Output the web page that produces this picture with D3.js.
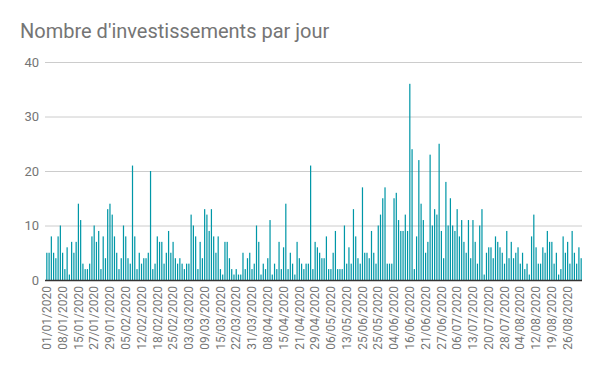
<!DOCTYPE html>
<html>
<head>
<meta charset="utf-8">
<script src="https://d3js.org/d3.v7.min.js"></script>
<style>
body { margin: 0; background: #fff; }
text { font-family: Roboto, "Noto Sans", sans-serif; }
</style>
</head>
<body>
<svg width="600" height="371"></svg>
<script>
// daily counts (238 days shown)
var counts = [
  5,5,8,5,4,8,10,5,2,6, 1,7,5,7,14,11,3,2,2,3, 8,10,7,9,2,8,4,13,14,12,
  8,5,2,4,10,8,4,3,21,8, 2,5,3,4,4,5,20,2,3,8, 7,7,3,5,9,5,7,4,3,
  4,3,2,3, 3,12,10,8, 2,7,4,13, 12,9,13,8, 5,8,2,1, 7,7,4,2, 1,2,1,1,
  5,2,4,5, 2,3,10,7, 1,3,2,4, 11,1,3,2, 7,2,6,14, 2,5,3,1, 7,4,3,2,
  3,3,21,2, 7,6,5,
  4,4,8,2,2, 5,9,2,2, 2,10,3,6, 3,13,8,4, 3,17,5,5, 4,9,5,3, 10,12,15,17,
  3,3,3,15, 16,11,9,9, 12,9,36,24, 2,8,22,14, 11,5,7,23, 10,13,12,25,
  9,4,18,10, 15,10,9,13, 8,
  11,7,5, 11,4,11,7, 3,10,13,1, 5,6,6,4,8, 7,6,5,3, 9,4,7,4, 5,6,3,5,
  2,3,1,8, 12,6,3,3, 6,5,9,7, 7,3,5,1, 2,8,5,7, 3,9,5,3, 6,4
];

// one label every 7 bars
var tickLabels = [
  "01/01/2020","08/01/2020","15/01/2020","27/01/2020","29/01/2020","05/02/2020",
  "12/02/2020","18/02/2020","25/02/2020","03/03/2020","09/03/2020","15/03/2020",
  "22/03/2020","31/03/2020","08/04/2020","15/04/2020","21/04/2020","29/04/2020",
  "06/05/2020","13/05/2020","25/06/2020","25/05/2020","04/06/2020","16/06/2020",
  "21/06/2020","27/06/2020","06/07/2020","13/07/2020","20/07/2020","28/07/2020",
  "04/08/2020","12/08/2020","19/08/2020","26/08/2020"
];
var labelEvery = 7;
var yTicks = [0, 10, 20, 30, 40];

var svg = d3.select("svg");
var plotLeft = 45, plotRight = 582, plotTop = 62, plotBottom = 280;

var x = d3.scaleBand()
    .domain(d3.range(counts.length))
    .range([plotLeft + 1, plotRight])
    .paddingInner(0.46)
    .paddingOuter(0.1);

var y = d3.scaleLinear()
    .domain([0, 40])
    .range([plotBottom, plotTop]);

svg.append("text")
    .attr("x", 20)
    .attr("y", 38)
    .attr("fill", "#757575")
    .attr("font-size", 20)
    .text("Nombre d'investissements par jour");

// grid + y labels
var yAxis = svg.append("g")
    .attr("transform", "translate(" + plotLeft + ",0)")
    .call(d3.axisLeft(y).tickValues(yTicks).tickSize(-(plotRight - plotLeft)).tickPadding(6));
yAxis.select(".domain").remove();
yAxis.selectAll(".tick line").attr("stroke", "#cccccc");
yAxis.selectAll(".tick text")
    .attr("fill", "#757575")
    .attr("font-size", 13)
    .attr("font-family", "Roboto, sans-serif");

svg.append("g")
    .selectAll("rect")
    .data(counts)
    .enter().append("rect")
      .attr("x", function(d, i) { return x(i); })
      .attr("width", x.bandwidth())
      .attr("y", function(d) { return y(d); })
      .attr("height", function(d) { return y(0) - y(d); })
      .attr("fill", "#0097a7");

// baseline
svg.append("line")
    .attr("x1", plotLeft).attr("x2", plotRight)
    .attr("y1", plotBottom + 0.5).attr("y2", plotBottom + 0.5)
    .attr("stroke", "#333")
    .attr("stroke-width", 1.5);

// x labels, rotated
var xAxis = svg.append("g")
    .attr("transform", "translate(0," + plotBottom + ")")
    .call(d3.axisBottom(x)
      .tickValues(tickLabels.map(function(d, i) { return i * labelEvery; }))
      .tickFormat(function(d) { return tickLabels[d / labelEvery]; })
      .tickSize(0));
xAxis.select(".domain").remove();
xAxis.selectAll(".tick text")
    .attr("fill", "#757575")
    .attr("font-size", 12)
    .attr("font-family", "Roboto, sans-serif")
    .attr("text-anchor", "end")
    .attr("transform", "rotate(-90)")
    .attr("x", -6)
    .attr("y", 0)
    .attr("dy", "0.35em");
</script>
</body>
</html>
